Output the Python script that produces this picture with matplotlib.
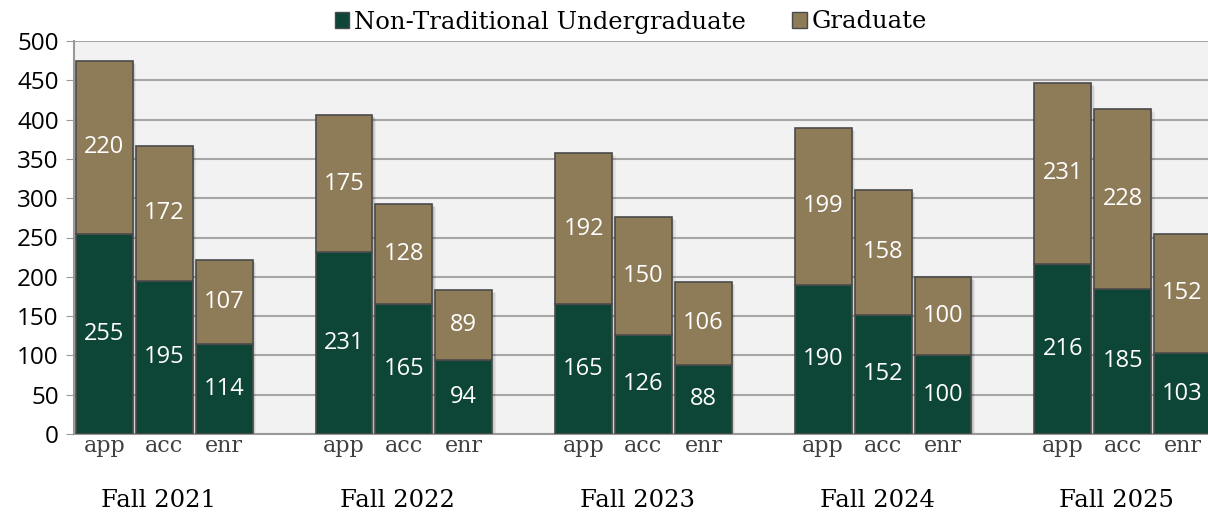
import numpy as np
import matplotlib.pyplot as plt

terms = ["Fall 2021", "Fall 2022", "Fall 2023", "Fall 2024", "Fall 2025"]
stages = ["app", "acc", "enr"]
undergrad = [[255, 195, 114], [231, 165, 94], [165, 126, 88], [190, 152, 100], [216, 185, 103]]
graduate = [[220, 172, 107], [175, 128, 89], [192, 150, 106], [199, 158, 100], [231, 228, 152]]

green = "#0d4536"
tan = "#8e7b57"
edge = "#4a4a4a"
serif = ["DejaVu Serif"]
sans = ["Open Sans"]

fig = plt.figure(figsize=(12.08, 5.14), dpi=100)
ax = fig.add_axes([74 / 1208, 1 - 434 / 514, 1 - 74 / 1208, (434 - 41) / 514])
ax.set_facecolor("#f2f2f2")

xs = []
for g, term in enumerate(terms):
    for i, st in enumerate(stages):
        x = 4 * g + i
        xs.append(x)
        u = undergrad[g][i]
        gr = graduate[g][i]
        # soft drop shadow behind the whole stack
        for k, a in [(1, 0.10), (2, 0.08), (3, 0.06)]:
            ax.bar(x + 0.02 * k, u + gr, bottom=-1.3 * k, width=0.95, color="#000000",
                   alpha=a, linewidth=0, zorder=2)
        ax.bar(x, u, width=0.95, color=green, edgecolor=edge, linewidth=1.2, zorder=3)
        ax.bar(x, gr, bottom=u, width=0.95, color=tan, edgecolor=edge, linewidth=1.2, zorder=3)
        ax.text(x, u / 2, str(u), ha="center", va="center", color="white", fontsize=17, family=sans, zorder=4)
        ax.text(x, u + gr / 2, str(gr), ha="center", va="center", color="white", fontsize=17, family=sans, zorder=4)
    ax.text(4 * g + 1 - 0.1, -85, term, ha="center", va="center", fontsize=17.5, family=serif, color="black")

ax.set_xlim(-0.508, 18.425)
ax.set_ylim(0, 500)
ax.set_yticks(np.arange(0, 501, 50))
ax.set_xticks(xs)
ax.set_xticklabels(stages * len(terms), family=serif, fontsize=16, color="#404040")
for lbl in ax.get_yticklabels():
    lbl.set_family(sans)
    lbl.set_fontsize(17.5)
ax.tick_params(axis="y", length=6, color="#999999", pad=5)
ax.tick_params(axis="x", length=0, pad=1)
ax.grid(axis="y", color="#a6a6a6", linewidth=1.5, zorder=0)
ax.set_axisbelow(True)
for s in ["top", "right"]:
    ax.spines[s].set_visible(False)
ax.spines["left"].set_color("#999999")
ax.spines["bottom"].set_color("#999999")
ax.spines["left"].set_linewidth(1.5)
ax.spines["bottom"].set_linewidth(1.5)

h1 = plt.Rectangle((0, 0), 1, 1, facecolor=green, edgecolor=edge)
h2 = plt.Rectangle((0, 0), 1, 1, facecolor=tan, edgecolor=edge)
fig.legend([h1, h2], ["Non-Traditional Undergraduate", "Graduate"], loc="center",
           bbox_to_anchor=(631 / 1208, 1 - 22 / 514), ncol=2, frameon=False,
           prop={"family": serif, "size": 17.5}, handlelength=0.6, handleheight=0.6,
           handletextpad=0.2, columnspacing=1.9, borderpad=0)

fig.savefig("out.png", dpi=100)
